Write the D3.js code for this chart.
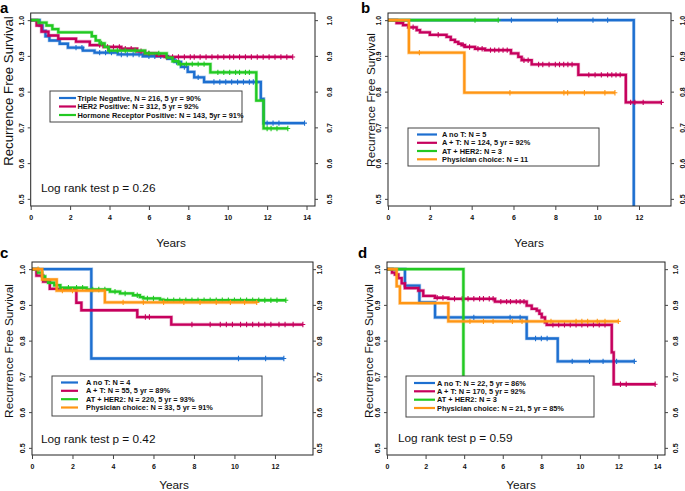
<!DOCTYPE html>
<html><head><meta charset="utf-8">
<script src="https://cdn.jsdelivr.net/npm/d3@7"></script>
<style>body{margin:0;background:#fff}svg{display:block;font-family:"Liberation Sans",Arial,sans-serif}</style>
</head><body><svg id="c" width="685" height="491"></svg>
<script>
// ---------- DATA ----------
const yTicks = [0.5, 0.6, 0.7, 0.8, 0.9, 1.0];
const xTicksA = [0, 2, 4, 6, 8, 10, 12, 14];
const xTicksB = [0, 2, 4, 6, 8, 10, 12];
const xTicksC = [0, 2, 4, 6, 8, 10, 12];
const xTicksD = [0, 2, 4, 6, 8, 10, 12, 14];

// Panel a: steps [time, survival], end time, censor times
const aTNsteps = [[0,1],[0.45,0.985],[0.6,0.97],[0.75,0.955],[0.95,0.943],[1.47,0.934],[1.89,0.923],[2.65,0.915],[3.24,0.909],[4.42,0.904],[5.69,0.899],[6.96,0.892],[7.3,0.883],[7.63,0.869],[7.97,0.855],[8.3,0.84],[8.8,0.827],[11.68,0.78],[11.82,0.712]];
const aTNend = 13.9;
const aTNcens = [2.3,2.6,3.5,3.8,4.1,4.6,4.9,5.2,5.5,6.0,6.3,6.6,7.4,7.8,8.5,9.3,9.6,9.9,10.2,10.5,10.8,11.1,11.3,12.0,12.3,12.6,13.9];
const aHERsteps = [[0,1],[0.3,0.985],[0.55,0.968],[0.9,0.957],[1.4,0.948],[2.3,0.94],[3.0,0.93],[3.7,0.925],[4.6,0.92],[5.4,0.913],[5.8,0.907],[6.4,0.9],[6.8,0.897]];
const aHERend = 13.3;
const aHERcens = [3.5,3.9,4.2,4.5,4.8,5.1,5.6,6.0,6.9,7.2,7.5,7.8,8.1,8.3,8.6,8.9,9.2,9.5,9.8,10.1,10.3,10.6,10.9,11.2,11.5,11.8,12.1,12.4,12.7,13.0,13.3];
const aHRsteps = [[0,1],[0.4,0.993],[0.8,0.985],[1.1,0.975],[1.4,0.966],[3.1,0.955],[3.3,0.943],[3.5,0.935],[3.75,0.925],[3.95,0.915],[5.8,0.907],[6.9,0.895],[7.2,0.885],[7.5,0.877],[9.12,0.854],[11.45,0.775],[11.82,0.697]];
const aHRend = 13.05;
const aHRcens = [3.6,4.0,4.4,4.8,5.3,6.0,6.5,7.6,7.9,8.2,8.5,8.8,9.5,9.8,10.1,10.4,10.6,10.9,11.1,12.0,12.2,12.5,13.05];
const aLabels = ["Triple Negative, N = 216, 5 yr = 90%","HER2 Positive: N = 312, 5 yr = 92%","Hormone Receptor Positive: N = 143, 5yr = 91%"];
const aPval = "Log rank test p = 0.26";

// Panel b
const bANTsteps = [[0,1],[11.75,0]];
const bANTend = 11.75;
const bANTcens = [5.9,8.1,9.8,10.5];
const bATsteps = [[0,1],[0.41,0.992],[0.72,0.986],[0.97,0.98],[1.37,0.972],[1.53,0.966],[2.0,0.959],[2.8,0.953],[3.0,0.945],[3.2,0.939],[3.36,0.934],[3.52,0.93],[3.68,0.925],[4.16,0.92],[4.64,0.916],[5.88,0.907],[6.23,0.897],[6.39,0.888],[6.87,0.876],[9.1,0.847],[11.37,0.77]];
const bATend = 13.07;
const bATcens = [1.2,2.4,3.6,3.9,4.3,4.5,4.9,5.1,5.3,5.5,5.7,6.5,6.7,7.2,7.4,7.7,8.0,8.2,8.4,8.6,8.8,9.6,9.9,10.2,10.5,10.7,10.9,11.1,11.6,11.8,12.2,13.07];
const bHERsteps = [[0,1]];
const bHERend = 5.27;
const bHERcens = [4.16,5.27];
const bPCsteps = [[0,1],[1.0,0.909],[3.65,0.797]];
const bPCend = 10.85;
const bPCcens = [1.5,5.83,8.41,8.59,9.39,10.37,10.85];
const bLabels = ["A no T: N = 5","A + T: N = 124, 5 yr = 92%","AT + HER2: N = 3","Physician choice: N = 11"];

// Panel c
const cANTsteps = [[0,1],[2.93,0.75]];
const cANTend = 12.44;
const cANTcens = [10.2,11.54,12.44];
const cATsteps = [[0,1],[0.22,0.982],[0.55,0.965],[0.88,0.945],[2.19,0.906],[2.44,0.885],[5.2,0.866],[6.88,0.845]];
const cATend = 13.38;
const cATcens = [5.6,5.8,7.9,8.8,9.3,9.6,9.9,10.3,10.6,10.9,11.2,11.5,11.8,12.2,12.5,12.9,13.38];
const cHERsteps = [[0,1],[0.3,0.99],[0.5,0.98],[0.65,0.97],[0.8,0.962],[1.1,0.955],[1.4,0.948],[2.7,0.943],[3.85,0.937],[4.35,0.932],[4.99,0.927],[5.33,0.922],[5.5,0.918],[6.32,0.915],[6.49,0.913]];
const cHERend = 12.54;
const cHERcens = [1.8,2.2,2.5,3.0,3.3,3.6,4.1,4.6,5.2,5.7,6.0,6.7,7.0,7.3,7.6,7.9,8.2,8.5,8.8,9.1,9.4,9.7,10.0,10.3,10.6,10.9,11.2,11.5,11.8,12.1,12.54];
const cPCsteps = [[0,1],[0.5,0.971],[1.22,0.94],[3.6,0.907]];
const cPCend = 11.1;
const cPCcens = [0.3,1.5,2.0,4.5,5.5,6.5,7.5,8.3,9.1,9.8,10.5,11.1];
const cLabels = ["A no T: N = 4","A + T: N = 55, 5 yr = 89%","AT + HER2: N = 220, 5 yr = 93%","Physician choice: N = 33, 5 yr = 91%"];
const cPval = "Log rank test p = 0.42";

// Panel d
const dANTsteps = [[0,1],[0.93,0.954],[1.68,0.907],[2.49,0.865],[7.24,0.806],[8.85,0.742]];
const dANTend = 12.82;
const dANTcens = [4.5,6.38,6.9,7.7,8.0,8.3,9.6,10.5,11.2,11.9,12.82];
const dATsteps = [[0,1],[0.26,0.99],[0.41,0.985],[0.59,0.975],[0.76,0.96],[0.93,0.947],[1.62,0.94],[1.88,0.925],[2.48,0.92],[3.18,0.917],[5.6,0.909],[7.24,0.898],[7.5,0.889],[7.76,0.884],[7.9,0.875],[8.02,0.865],[8.19,0.851],[8.28,0.844],[11.65,0.767],[11.75,0.678]];
const dATend = 13.9;
const dATcens = [2.6,2.9,3.5,3.9,4.2,4.5,4.8,5.0,5.3,5.5,5.9,6.2,6.4,6.7,6.9,7.1,8.6,8.9,9.2,9.5,9.8,10.1,10.4,10.7,11.0,11.3,12.1,12.4,13.9];
const dHERsteps = [[0,1],[3.96,0.667]];
const dHERend = 3.96;
const dHERcens = [];
const dPCsteps = [[0,1],[0.5,0.952],[0.67,0.905],[3.18,0.854]];
const dPCend = 11.99;
const dPCcens = [4.3,5.0,5.5,6.5,7.0,8.5,9.8,10.1,10.4,10.9,11.3,11.99];
const dLabels = ["A no T: N = 22, 5 yr = 86%","A + T: N = 170, 5 yr = 92%","AT + HER2: N = 3","Physician choice: N = 21, 5 yr = 85%"];
const dPval = "Log rank test p = 0.59";

// ---------- STYLE / LAYOUT ----------
const BLUE = "#1d6fd0", MAG = "#c6005d", GREEN = "#22c922", ORANGE = "#ff9614";
const FONT = '"Liberation Sans", Arial, sans-serif';

const panels = [
  { letter:"a", lx:0, ly:13, box:[30.7,13,315,206], xmax:14.43, xt:xTicksA, rOff:16.5,
    ylab:{x:13,y:91,fs:13.2}, years:{x:171,y:247},
    series:[[BLUE,aTNsteps,aTNend,aTNcens],[MAG,aHERsteps,aHERend,aHERcens],[GREEN,aHRsteps,aHRend,aHRcens]],
    legend:{box:[50,91,242,122], rows:[98,106.5,115], l0:59, l1:76, tx:77.5, labels:aLabels, colors:[BLUE,MAG,GREEN]},
    pval:{text:aPval,x:41,y:191.5} },
  { letter:"b", lx:361, ly:13, box:[388,13,671,206], xmax:13.53, xt:xTicksB, rOff:14,
    ylab:{x:374.5,y:100,fs:11.8}, years:{x:529,y:247},
    series:[[BLUE,bANTsteps,bANTend,bANTcens],[MAG,bATsteps,bATend,bATcens],[GREEN,bHERsteps,bHERend,bHERcens],[ORANGE,bPCsteps,bPCend,bPCcens]],
    legend:{box:[408,128,599,166], rows:[134.5,142.8,151,159.3], l0:417, l1:437, tx:442, labels:bLabels, colors:[BLUE,MAG,GREEN,ORANGE]},
    pval:null },
  { letter:"c", lx:0, ly:258, box:[32,262,313,455], xmax:13.88, xt:xTicksC, rOff:8.5,
    ylab:{x:13,y:351,fs:11.8}, years:{x:174,y:489},
    series:[[BLUE,cANTsteps,cANTend,cANTcens],[MAG,cATsteps,cATend,cATcens],[GREEN,cHERsteps,cHERend,cHERcens],[ORANGE,cPCsteps,cPCend,cPCcens]],
    legend:{box:[52,376,262,416], rows:[382.5,390.8,399.2,407.5], l0:61, l1:78, tx:86, labels:cLabels, colors:[BLUE,MAG,GREEN,ORANGE]},
    pval:{text:cPval,x:41,y:442.5} },
  { letter:"d", lx:358, ly:258, box:[387,262,665,455], xmax:14.41, xt:xTicksD, rOff:13,
    ylab:{x:373,y:351,fs:11.8}, years:{x:521,y:489},
    series:[[BLUE,dANTsteps,dANTend,dANTcens],[MAG,dATsteps,dATend,dATcens],[GREEN,dHERsteps,dHERend,dHERcens],[ORANGE,dPCsteps,dPCend,dPCcens]],
    legend:{box:[406,376,594,417], rows:[383,391.3,399.7,408], l0:414, l1:435, tx:437, labels:dLabels, colors:[BLUE,MAG,GREEN,ORANGE]},
    pval:{text:dPval,x:398,y:442} }
];

const svg = d3.select("#c");

panels.forEach((p, pi) => {
  const [x0,y0,x1,y1] = p.box;
  const x = d3.scaleLinear().domain([0,p.xmax]).range([x0,x1]);
  const y = d3.scaleLinear().domain([0.48,1.02]).range([y1,y0]);
  const g = svg.append("g");

  const cid = "clip"+pi;
  svg.append("clipPath").attr("id",cid).append("rect")
    .attr("x",x0).attr("y",y0).attr("width",x1-x0).attr("height",y1-y0);

  const line = d3.line().x(d=>x(d[0])).y(d=>y(d[1])).curve(d3.curveStepAfter);
  const cg = g.append("g").attr("clip-path",`url(#${cid})`);
  p.series.forEach(([col, steps, end, cens]) => {
    const pts = steps.concat([[end, steps[steps.length-1][1]]]);
    cg.append("path").attr("d", line(pts)).attr("fill","none")
      .attr("stroke",col).attr("stroke-opacity",0.35).attr("stroke-width",3.6);
    cg.append("path").attr("d", line(pts)).attr("fill","none")
      .attr("stroke",col).attr("stroke-width",2.3);
    const survAt = t => { let s = 1; steps.forEach(d => { if (d[0] <= t) s = d[1]; }); return s; };
    cg.selectAll(null).data(cens).enter().append("path")
      .attr("d", t => { const cx = x(t), cy = y(survAt(t)); return `M${cx-2.4},${cy}h4.8M${cx},${cy-2.7}v5.4`; })
      .attr("stroke",col).attr("stroke-width",1.1).attr("fill","none");
  });

  g.append("rect").attr("x",x0).attr("y",y0).attr("width",x1-x0).attr("height",y1-y0)
    .attr("fill","none").attr("stroke","#222").attr("stroke-width",1);

  const ax = g.append("g").attr("transform",`translate(0,${y1})`)
    .call(d3.axisBottom(x).tickValues(p.xt).tickFormat(d3.format("d")).tickSize(4).tickSizeOuter(0).tickPadding(4));
  ax.select(".domain").remove();
  ax.selectAll("line").attr("stroke","#444");
  ax.selectAll("text").attr("font-family",FONT).attr("font-size",7).attr("font-weight","bold").attr("fill","#111")
    .attr("dy",null).attr("y",14);

  const al = g.append("g").attr("transform",`translate(${x0},0)`)
    .call(d3.axisLeft(y).tickValues(yTicks).tickFormat(d3.format(".1f")).tickSize(3).tickSizeOuter(0));
  al.select(".domain").remove();
  al.selectAll("line").attr("stroke","#444");
  al.selectAll("text").attr("font-family",FONT).attr("font-size",7).attr("font-weight","bold").attr("fill","#111")
    .attr("x",null).attr("dy",null).attr("text-anchor","middle").attr("transform","translate(-7,0) rotate(-90)");

  const ar = g.append("g").attr("transform",`translate(${x1},0)`)
    .call(d3.axisRight(y).tickValues(yTicks).tickFormat(d3.format(".1f")).tickSize(3).tickSizeOuter(0));
  ar.select(".domain").remove();
  ar.selectAll("line").attr("stroke","#444");
  ar.selectAll("text").attr("font-family",FONT).attr("font-size",7).attr("font-weight","bold").attr("fill","#111")
    .attr("x",null).attr("dy",null).attr("text-anchor","middle").attr("transform",`translate(${p.rOff},0) rotate(-90)`);

  const L = p.legend;
  g.append("rect").attr("x",L.box[0]).attr("y",L.box[1]).attr("width",L.box[2]-L.box[0]).attr("height",L.box[3]-L.box[1])
    .attr("fill","#fff").attr("stroke","#444").attr("stroke-width",1);
  L.labels.forEach((lab,i) => {
    g.append("line").attr("x1",L.l0).attr("x2",L.l1).attr("y1",L.rows[i]).attr("y2",L.rows[i])
      .attr("stroke",L.colors[i]).attr("stroke-width",2.2);
    g.append("text").attr("x",L.tx).attr("y",L.rows[i]).attr("dy","0.35em")
      .attr("font-family",FONT).attr("font-size",7.4).attr("font-weight","bold").attr("fill","#111").text(lab);
  });

  if (p.pval) g.append("text").attr("x",p.pval.x).attr("y",p.pval.y)
    .attr("font-family",FONT).attr("font-size",11.8).attr("fill","#111").text(p.pval.text);

  g.append("text").attr("transform",`translate(${p.ylab.x},${p.ylab.y}) rotate(-90)`).attr("text-anchor","middle")
    .attr("font-family",FONT).attr("font-size",p.ylab.fs).attr("fill","#111").text("Recurrence Free Survival");
  g.append("text").attr("x",p.years.x).attr("y",p.years.y).attr("text-anchor","middle")
    .attr("font-family",FONT).attr("font-size",11.8).attr("fill","#111").text("Years");

  g.append("text").attr("x",p.lx).attr("y",p.ly).attr("font-family",FONT).attr("font-size",15)
    .attr("font-weight","bold").attr("fill","#000").text(p.letter);
});
</script>
</body></html>
